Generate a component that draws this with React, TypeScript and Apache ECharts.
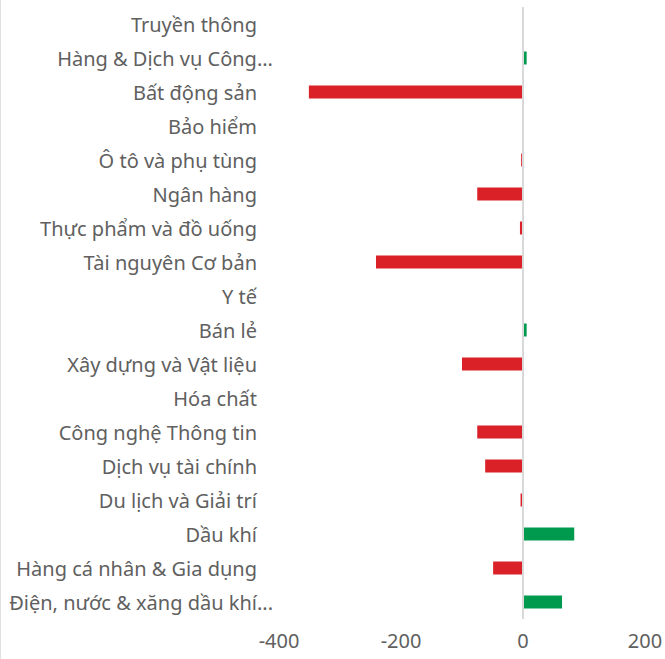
import React, { useEffect, useRef } from "react";
import * as echarts from "echarts";

const categories = [
  "Truyền thông",
  "Hàng & Dịch vụ Công...",
  "Bất động sản",
  "Bảo hiểm",
  "Ô tô và phụ tùng",
  "Ngân hàng",
  "Thực phẩm và đồ uống",
  "Tài nguyên Cơ bản",
  "Y tế",
  "Bán lẻ",
  "Xây dựng và Vật liệu",
  "Hóa chất",
  "Công nghệ Thông tin",
  "Dịch vụ tài chính",
  "Du lịch và Giải trí",
  "Dầu khí",
  "Hàng cá nhân & Gia dụng",
  "Điện, nước & xăng dầu khí...",
];

const values = [0, 6, -351, -0.5, -3, -75, -5, -241, 0, 6, -100, 0, -75, -62, -4, 84, -49, 64];

const axisMin = -400;
const axisMax = 200;
const axisInterval = 200;

const POS = "#009A4E";
const NEG = "#DA2128";

export default function App() {
  const ref = useRef<HTMLDivElement>(null);
  useEffect(() => {
    if (!ref.current) return;
    document.body.style.margin = "0";
    const chart = echarts.init(ref.current, undefined, { renderer: "svg" });
    chart.setOption({
      animation: false,
      textStyle: { fontFamily: "Noto Sans" },
      grid: {
        left: 279,
        right: 20,
        top: 7,
        bottom: 40,
        containLabel: false,
        outerBoundsMode: "none",
      },
      xAxis: {
        type: "value",
        min: axisMin,
        max: axisMax,
        interval: axisInterval,
        splitLine: { show: false },
        axisLine: { show: false },
        axisTick: { show: false },
        axisLabel: { color: "#606060", fontSize: 20, margin: 11 },
      },
      yAxis: {
        type: "category",
        data: categories,
        inverse: true,
        axisLine: { show: false },
        axisTick: { show: false },
        axisLabel: {
          color: "#606060",
          fontSize: 20,
          margin: 6,
          formatter: (v: string) => (v.endsWith("...") ? v : `{n|${v}}`),
          rich: {
            n: { color: "#606060", fontSize: 20, fontFamily: "Noto Sans", padding: [0, 16, 0, 0] },
          },
        },
      },
      series: [
        {
          type: "bar",
          barWidth: 13,
          data: values.map((v) => ({
            value: v,
            itemStyle: { color: v >= 0 ? POS : NEG },
          })),
          markLine: {
            silent: true,
            symbol: "none",
            label: { show: false },
            lineStyle: { color: "#d9d9d9", width: 2, type: "solid" },
            data: [{ xAxis: 0 }],
          },
        },
      ],
      graphic: [
        {
          type: "line",
          shape: { x1: 0.5, y1: 0, x2: 0.5, y2: 659 },
          style: { stroke: "#e0e0e0", lineWidth: 1 },
        },
      ],
    });
    return () => chart.dispose();
  }, []);
  return <div ref={ref} style={{ width: 665, height: 659 }} />;
}
